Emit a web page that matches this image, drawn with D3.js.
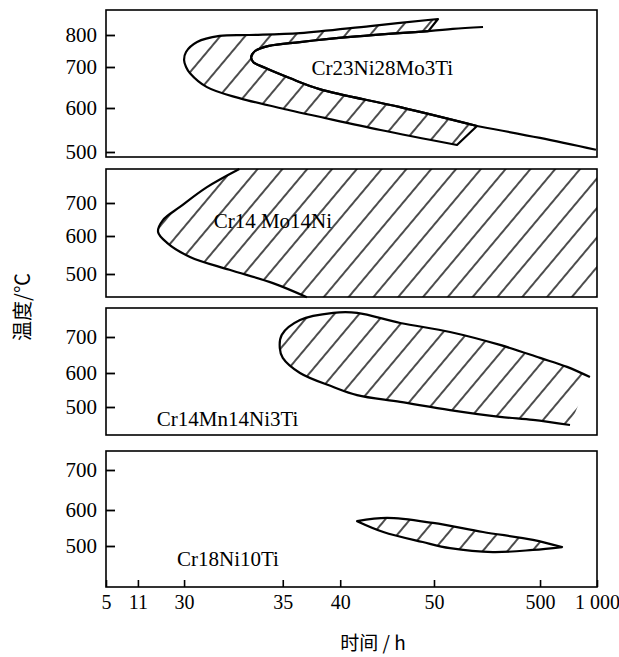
<!DOCTYPE html>
<html>
<head>
<meta charset="utf-8">
<script src="https://cdn.jsdelivr.net/npm/d3@7"></script>
<style>
	body { margin: 0; background: #fff; }
	svg { display: block; }
</style>
</head>
<body>
<div id="chart"></div>
<script>
// x axis of the original figure: odd, uneven tick values
const xTicks = [5, 11, 30, 35, 40, 50, 500, 1000];
const xTickLabels = ['5', '11', '30', '35', '40', '50', '500', '1 000'];

const alloys = ['Cr23Ni28Mo3Ti', 'Cr14 Mo14Ni', 'Cr14Mn14Ni3Ti', 'Cr18Ni10Ti'];
const tempTicks = [
	[500, 600, 700, 800],
	[500, 600, 700],
	[500, 600, 700],
	[500, 600, 700],
];
// label anchor [time, temperature]
const labelAt = [
	[37.5, 680],
	[31.5, 624],
	[18.8, 444],
	[27.1, 444],
];

// Cr23Ni28Mo3Ti: outer (start) curve and inner curve, [time h, temp °C]
const cr23Outer = [
	[67, 850], [43.2, 828], [36.5, 806], [33.3, 800], [31.8, 797], [30.66, 778],
	[30.1, 747], [30, 722], [30.1, 700], [30.3, 685], [31.16, 651], [32.8, 624],
	[35.6, 595], [38.2, 580], [44.3, 550], [147.6, 516],
];
const cr23InnerBand = [
	[232.5, 559], [46.4, 602], [38.2, 646], [35.6, 673], [34.1, 698], [33.5, 716],
	[33.4, 731], [33.6, 750], [34.3, 766], [36.5, 778], [41.1, 794], [49.4, 812],
];
const cr23LowTail = [[991, 505], [500, 532], [232.5, 559]];
const cr23TopTail = [[49.4, 812], [130, 819], [258, 825]];

// Cr14Mo14Ni: boundary curve, hatched to the right
const cr14MoCurve = [
	[32.8, 803], [31.16, 748], [28.3, 688], [21.3, 648], [19.3, 612], [23.0, 582],
	[30.3, 545], [32.3, 511], [34.5, 476], [37.1, 439],
];

// Cr14Mn14Ni3Ti: C curve, open at the right
const cr14MnCurve = [
	[938, 588], [737, 617], [500, 642], [330, 678], [118, 714], [46.4, 739],
	[41.8, 767], [39.4, 767], [36.5, 747], [34.95, 706], [34.85, 669], [35, 642],
	[36.5, 600], [39.4, 559], [41.8, 535], [46.4, 515], [118, 491], [330, 471],
	[470, 462], [763, 447],
];

// Cr18Ni10Ti: lens
const cr18Upper = [[41.8, 569], [45.0, 578], [49.9, 564], [258, 539], [470, 517], [693, 497]];
const cr18Lower = [[693, 497], [470, 489], [300, 483], [118, 494], [48.8, 511], [44.6, 539], [41.8, 569]];

// layout
const width = 619;
const height = 657;
const left = 106;
const right = 597;
const xStops = [0, 0.065, 0.159, 0.36, 0.477, 0.668, 0.884, 1];
const panels = [
	{ top: 10, bottom: 157, tickPx: [152, 108, 67, 35] },
	{ top: 169, bottom: 297, tickPx: [274, 236, 203] },
	{ top: 308, bottom: 435, tickPx: [407, 373, 337] },
	{ top: 451, bottom: 587, tickPx: [546, 510, 470] },
];

const x = d3
	.scaleLinear()
	.domain(xTicks)
	.range(xStops.map((f) => left + f * (right - left)));

const yScales = panels.map((p, i) => d3.scaleLinear().domain(tempTicks[i]).range(p.tickPx));

const svg = d3
	.select('#chart')
	.append('svg')
	.attr('width', width)
	.attr('height', height)
	.attr('viewBox', [0, 0, width, height]);

// hatch
svg
	.append('defs')
	.append('pattern')
	.attr('id', 'hatch')
	.attr('patternUnits', 'userSpaceOnUse')
	.attr('width', 19)
	.attr('height', 19)
	.attr('patternTransform', 'rotate(40)')
	.append('line')
	.attr('x1', 2)
	.attr('y1', 0)
	.attr('x2', 2)
	.attr('y2', 19)
	.attr('stroke', '#000')
	.attr('stroke-width', 1.4);

const lineFor = (y) =>
	d3
		.line()
		.x((d) => x(d[0]))
		.y((d) => y(d[1]))
		.curve(d3.curveCatmullRom.alpha(0.5));

const join = (a, b) => a + b.replace(/^M/, 'L');

const drawShape = (d, fill) =>
	svg
		.append('path')
		.attr('d', d)
		.attr('fill', fill ? 'url(#hatch)' : 'none')
		.attr('stroke', '#000')
		.attr('stroke-width', 2.2)
		.attr('stroke-linejoin', 'round');

// panel 1
let line = lineFor(yScales[0]);
drawShape(join(line(cr23Outer), line(cr23InnerBand)) + 'Z', true);
drawShape(join(line(cr23LowTail), line(cr23InnerBand)), false);
drawShape(line(cr23TopTail), false);

// panel 2
line = lineFor(yScales[1]);
svg
	.append('path')
	.attr('d', line(cr14MoCurve) + `L${right},${panels[1].bottom}L${right},${panels[1].top}Z`)
	.attr('fill', 'url(#hatch)');
drawShape(line(cr14MoCurve), false);

// panel 3
line = lineFor(yScales[2]);
svg.append('path').attr('d', line(cr14MnCurve) + 'Z').attr('fill', 'url(#hatch)');
drawShape(line(cr14MnCurve), false);

// panel 4
line = lineFor(yScales[3]);
drawShape(join(line(cr18Upper), line(cr18Lower)) + 'Z', true);

// frames, y axes, labels
panels.forEach((p, i) => {
	svg
		.append('rect')
		.attr('x', left)
		.attr('y', p.top)
		.attr('width', right - left)
		.attr('height', p.bottom - p.top)
		.attr('fill', 'none')
		.attr('stroke', '#000')
		.attr('stroke-width', 1.6);

	const ax = svg
		.append('g')
		.attr('transform', `translate(${left},0)`)
		.call(d3.axisLeft(yScales[i]).tickValues(tempTicks[i]).tickSizeInner(-9).tickSizeOuter(0).tickPadding(9));
	ax.select('.domain').remove();
	ax.selectAll('line').attr('stroke-width', 1.8);
	ax.attr('font-family', '"Liberation Serif", serif').attr('font-size', 21);
	ax.selectAll('text').attr('fill', '#000');

	svg
		.append('text')
		.attr('x', x(labelAt[i][0]))
		.attr('y', yScales[i](labelAt[i][1]))
		.attr('font-family', '"Liberation Serif", serif')
		.attr('font-size', 21)
		.text(alloys[i]);
});

// x axis on the bottom panel
const xAxis = svg
	.append('g')
	.attr('transform', `translate(0,${panels[3].bottom})`)
	.call(
		d3
			.axisBottom(x)
			.tickValues(xTicks)
			.tickFormat((d, i) => xTickLabels[i])
			.tickSizeInner(-7)
			.tickSizeOuter(0)
			.tickPadding(8)
	);
xAxis.select('.domain').remove();
xAxis.selectAll('line').attr('stroke-width', 1.6);
xAxis.attr('font-family', '"Liberation Serif", serif').attr('font-size', 20);
xAxis.selectAll('text').attr('fill', '#000');

// axis titles
svg
	.append('text')
	.attr('x', 373)
	.attr('y', 650)
	.attr('text-anchor', 'middle')
	.attr('font-family', '"Noto Sans CJK SC", sans-serif')
	.attr('font-size', 19)
	.text('时间 / h');

svg
	.append('text')
	.attr('transform', 'translate(30,307) rotate(-90)')
	.attr('text-anchor', 'middle')
	.attr('font-family', '"Noto Sans CJK SC", sans-serif')
	.attr('font-size', 20)
	.text('温度/℃');
</script>
</body>
</html>
